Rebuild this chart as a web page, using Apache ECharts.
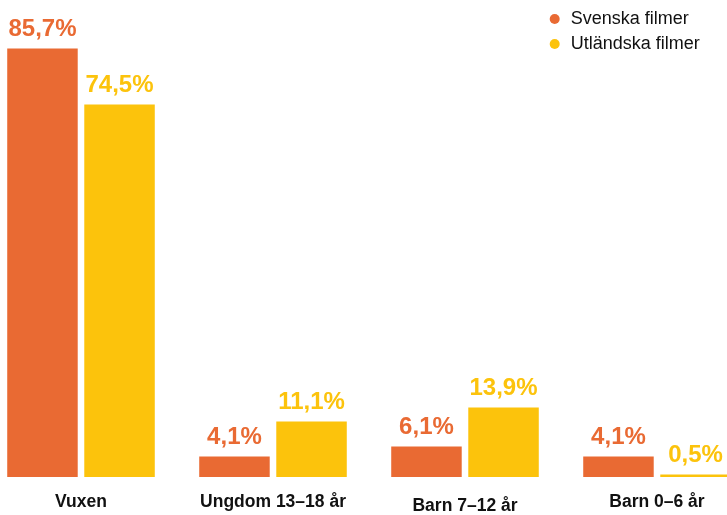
<!DOCTYPE html>
<html>
<head>
<meta charset="utf-8">
<script src="https://cdn.jsdelivr.net/npm/echarts@6/dist/echarts.min.js"></script>
<style>
  html, body { margin: 0; padding: 0; background: #ffffff; overflow: hidden; }
  #main { position: absolute; left: -14.7px; top: 0; width: 768px; height: 515px; }
</style>
</head>
<body>
<div id="main"></div>
<script>
var categories = ['Vuxen', 'Ungdom 13–18 år', 'Barn 7–12 år', 'Barn 0–6 år'];
var svenska = [85.7, 4.1, 6.1, 4.1];
var utlandska = [74.5, 11.1, 13.9, 0.5];
var seriesNames = ['Svenska filmer', 'Utländska filmer'];

var ORANGE = '#E96A33';
var YELLOW = '#FCC30C';
var FONT = '"Liberation Sans", Arial, sans-serif';

function pct(p) {
    return p.value.toFixed(1).replace('.', ',') + '%';
}

function valueLabel(color) {
    return {
        show: true,
        position: 'top',
        distance: 7,
        formatter: pct,
        color: color,
        fontFamily: FONT,
        fontWeight: 'bold',
        fontSize: 24
    };
}

var option = {
    backgroundColor: '#ffffff',
    animation: false,
    legend: {
        data: seriesNames,
        orient: 'vertical',
        left: 559.7,
        top: 4,
        icon: 'circle',
        itemWidth: 10,
        itemHeight: 10,
        itemGap: 5,
        textStyle: {
            color: '#111111',
            fontFamily: FONT,
            fontSize: 18,
            lineHeight: 20,
            padding: [0, 0, 0, 6]
        }
    },
    grid: {
        left: 0,
        right: 0,
        top: 27,
        height: 454,
        containLabel: false
    },
    xAxis: {
        type: 'category',
        data: categories,
        axisLine: { show: false },
        axisTick: { show: false },
        axisLabel: {
            margin: 16,
            interval: 0,
            color: '#111111',
            fontFamily: FONT,
            fontWeight: 'bold',
            fontSize: 17.5,
            formatter: function (v, i) {
                return i === 2 ? '{low|' + v + '}' : v;
            },
            rich: {
                low: {
                    color: '#111111',
                    fontFamily: FONT,
                    fontWeight: 'bold',
                    fontSize: 17.5,
                    padding: [4, 0, 0, 0]
                }
            }
        }
    },
    yAxis: {
        type: 'value',
        min: 0,
        max: 90,
        show: false,
        splitLine: { show: false }
    },
    series: [{
        name: seriesNames[0],
        type: 'bar',
        data: svenska,
        barWidth: 70.5,
        barGap: '9.3%',
        itemStyle: { color: ORANGE },
        label: valueLabel(ORANGE)
    }, {
        name: seriesNames[1],
        type: 'bar',
        data: utlandska,
        barWidth: 70.5,
        barGap: '9.3%',
        itemStyle: { color: YELLOW },
        label: valueLabel(YELLOW)
    }]
};

var myChart = echarts.init(document.getElementById('main'), null, { renderer: 'canvas' });
myChart.setOption(option);
</script>
</body>
</html>
